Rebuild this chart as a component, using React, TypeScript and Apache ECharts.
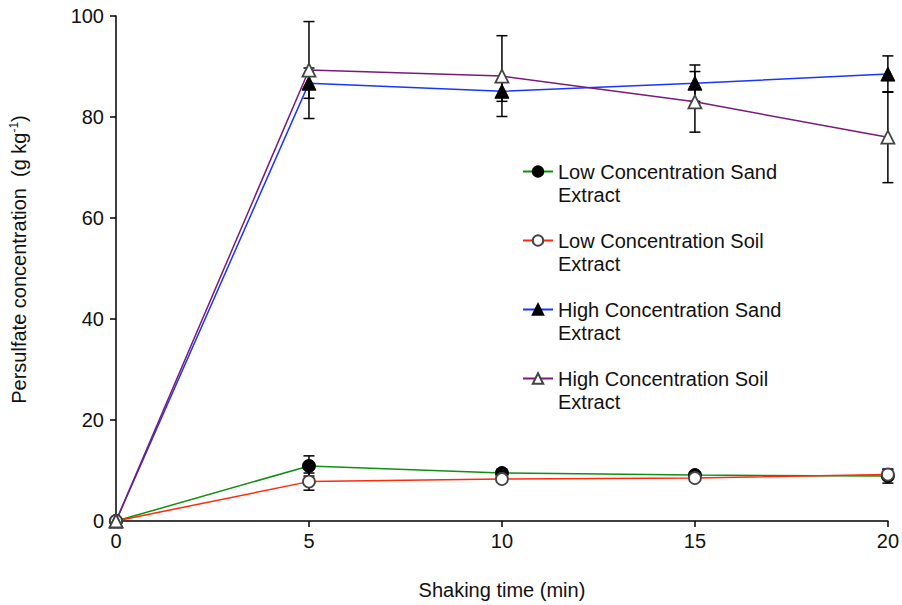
import React, { useEffect, useRef } from "react";
import * as echarts from "echarts";

const times = [0, 5, 10, 15, 20];
const lowSand = [0, 10.9, 9.5, 9.1, 8.9];
const lowSandErr = [0.4, 2.0, 0.8, 0.6, 1.4];
const lowSoil = [0, 7.8, 8.3, 8.5, 9.2];
const lowSoilErr = [0.3, 1.7, 0.6, 0.5, 1.0];
const highSand = [0, 86.7, 85.1, 86.7, 88.5];
const highSandErr = [0.3, 3.0, 2.0, 3.6, 3.6];
const highSoil = [0, 89.3, 88.1, 83.0, 76.0];
const highSoilErr = [0.3, 9.6, 8.0, 6.0, 9.0];
const yTicks = [0, 20, 40, 60, 80, 100];
const xTicks = [0, 5, 10, 15, 20];

const names = [
  "Low Concentration Sand\nExtract",
  "Low Concentration Soil\nExtract",
  "High Concentration Sand\nExtract",
  "High Concentration Soil\nExtract",
];

const FONT = "Liberation Sans, Arial, sans-serif";
const FS = 20;

export default function App() {
  const ref = useRef<HTMLDivElement>(null);
  useEffect(() => {
    document.body.style.margin = "0";
    const chart = echarts.init(ref.current!, null, { renderer: "svg" });
    const mk = (
      name: string,
      vals: number[],
      color: string,
      symbol: string,
      filled: boolean,
      size: number
    ) => ({
      name,
      type: "line",
      data: times.map((t, i) => [t, vals[i]]),
      symbol,
      symbolSize: size,
      showSymbol: true,
      lineStyle: { color, width: 1.5 },
      itemStyle: filled
        ? { color: "#000", borderColor: "#000", borderWidth: 1 }
        : { color: "#fff", borderColor: "#444", borderWidth: 1.8 },
      z: 3,
    });
    const errSeries = (vals: number[], errs: number[]) => ({
      type: "custom",
      silent: true,
      z: 2,
      data: times.map((t, i) => [t, vals[i] - errs[i], vals[i] + errs[i]]),
      encode: { x: 0, y: [1, 2] },
      renderItem: (params: any, api: any) => {
        const x = api.value(0);
        const lo = api.coord([x, api.value(1)]);
        const hi = api.coord([x, api.value(2)]);
        const w = 5.5;
        const st = { stroke: "#000", lineWidth: 1.5 };
        return {
          type: "group",
          children: [
            { type: "line", shape: { x1: lo[0], y1: lo[1], x2: hi[0], y2: hi[1] }, style: st },
            { type: "line", shape: { x1: lo[0] - w, y1: lo[1], x2: lo[0] + w, y2: lo[1] }, style: st },
            { type: "line", shape: { x1: hi[0] - w, y1: hi[1], x2: hi[0] + w, y2: hi[1] }, style: st },
          ],
        };
      },
    });
    chart.setOption({
      animation: false,
      backgroundColor: "#fff",
      textStyle: { fontFamily: FONT },
      grid: { left: 115, right: 9, top: 16, bottom: 84 },
      legend: {
        orient: "vertical",
        left: 522,
        top: 137,
        padding: 0,
        itemGap: 0,
        itemWidth: 30,
        itemHeight: 13,
        data: names,
        formatter: (n: string) => " \n" + n,
        textStyle: {
          fontFamily: FONT,
          fontSize: FS,
          color: "#111",
          lineHeight: 23,
        },
      },
      xAxis: {
        type: "value",
        min: 0,
        max: 20,
        interval: 5,
        name: "Shaking time (min)",
        nameLocation: "middle",
        nameGap: 59,
        nameTextStyle: { fontSize: FS, color: "#111", fontFamily: FONT },
        axisLine: { lineStyle: { color: "#000", width: 1.5 } },
        axisTick: { show: true, length: 6, lineStyle: { color: "#000", width: 1.5 } },
        axisLabel: {
          fontSize: FS,
          color: "#111",
          margin: 10,
          fontFamily: FONT,
          customValues: xTicks,
        },
        splitLine: { show: false },
      },
      yAxis: {
        type: "value",
        min: 0,
        max: 100,
        interval: 20,
        name: "{a|Persulfate concentration  (g kg}{s|-1}{a|)}",
        nameLocation: "middle",
        nameGap: 86,
        nameRotate: 90,
        nameTextStyle: {
          color: "#111",
          fontFamily: FONT,
          fontSize: FS,
          padding: [0, 0, 0, 18],
          rich: {
            a: { fontSize: FS, color: "#111", fontFamily: FONT },
            s: { fontSize: 12, color: "#111", fontFamily: FONT, verticalAlign: "top", padding: [0, 0, 10, 0] },
          },
        },
        axisLine: { show: true, lineStyle: { color: "#000", width: 1.5 } },
        axisTick: { show: true, length: 6, lineStyle: { color: "#000", width: 1.5 } },
        axisLabel: {
          fontSize: FS,
          color: "#111",
          margin: 12,
          fontFamily: FONT,
          customValues: yTicks,
        },
        splitLine: { show: false },
      },
      series: [
        errSeries(lowSand, lowSandErr),
        errSeries(lowSoil, lowSoilErr),
        errSeries(highSand, highSandErr),
        errSeries(highSoil, highSoilErr),
        mk(names[0], lowSand, "#109010", "circle", true, 13),
        mk(names[1], lowSoil, "#ff2a0a", "circle", false, 12),
        mk(names[2], highSand, "#1a35ff", "triangle", true, 14),
        mk(names[3], highSoil, "#7a1a7a", "triangle", false, 13),
      ],
    });
    return () => chart.dispose();
  }, []);
  return (
    <div
      ref={ref}
      style={{ width: 902, height: 605, position: "absolute", left: 0, top: 0 }}
    />
  );
}
